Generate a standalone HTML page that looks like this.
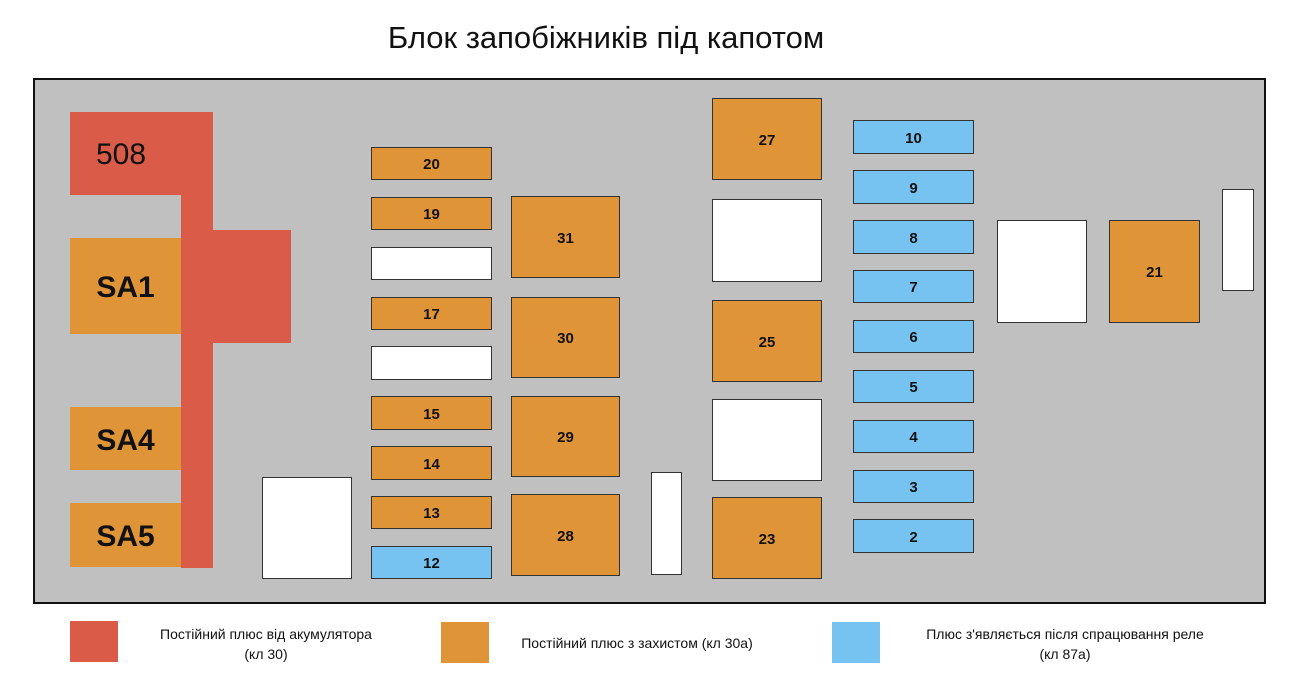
<!DOCTYPE html>
<html><head><meta charset="utf-8"><style>
body{margin:0;width:1296px;height:676px;background:#fff;position:relative;overflow:hidden;font-family:"Liberation Sans",sans-serif}
div{position:absolute;box-sizing:border-box}
.p{left:33px;top:78px;width:1233px;height:526px;border:2px solid #111;background:#c0c0c0}
.r{background:#d95b48}
.o,.b,.w{border:1.5px solid #333;display:flex;align-items:center;justify-content:center;font-weight:bold;font-size:15px;color:#111;padding-top:2px}
.o{background:#e09438}.b{background:#76c2f1}.w{background:#fff}
.sa{background:#e09438;display:flex;align-items:center;justify-content:center;font-weight:bold;font-size:30px;color:#111;padding-top:4px}
.t{font-size:14px;text-align:center;color:#111;line-height:20px}
</style></head><body>
<div style="left:200px;top:20px;width:812px;text-align:center;font-size:31px;color:#111">Блок запобіжників під капотом</div>
<div class="p"></div>
<div class="r" style="left:70px;top:112px;width:143px;height:83px"></div>
<div style="left:96px;top:138px;font-size:30px;color:#111">508</div>
<div class="r" style="left:181px;top:190px;width:32px;height:378px"></div>
<div class="r" style="left:181px;top:230px;width:110px;height:113px"></div>
<div class="sa" style="left:70px;top:238px;width:111px;height:96px">SA1</div>
<div class="sa" style="left:70px;top:407px;width:111px;height:63px">SA4</div>
<div class="sa" style="left:70px;top:503px;width:111px;height:64px">SA5</div>

<div class="o" style="left:371px;top:147px;width:121px;height:33px">20</div>
<div class="o" style="left:371px;top:197px;width:121px;height:33px">19</div>
<div class="w" style="left:371px;top:247px;width:121px;height:33px"></div>
<div class="o" style="left:371px;top:297px;width:121px;height:33px">17</div>
<div class="w" style="left:371px;top:346px;width:121px;height:34px"></div>
<div class="o" style="left:371px;top:396px;width:121px;height:34px">15</div>
<div class="o" style="left:371px;top:446px;width:121px;height:34px">14</div>
<div class="o" style="left:371px;top:496px;width:121px;height:33px">13</div>
<div class="b" style="left:371px;top:546px;width:121px;height:33px">12</div>

<div class="o" style="left:511px;top:196px;width:109px;height:82px">31</div>
<div class="o" style="left:511px;top:297px;width:109px;height:81px">30</div>
<div class="o" style="left:511px;top:396px;width:109px;height:81px">29</div>
<div class="o" style="left:511px;top:494px;width:109px;height:82px">28</div>

<div class="w" style="left:262px;top:477px;width:90px;height:102px"></div>
<div class="w" style="left:651px;top:472px;width:31px;height:103px"></div>

<div class="o" style="left:712px;top:98px;width:110px;height:82px">27</div>
<div class="w" style="left:712px;top:199px;width:110px;height:83px"></div>
<div class="o" style="left:712px;top:300px;width:110px;height:82px">25</div>
<div class="w" style="left:712px;top:399px;width:110px;height:82px"></div>
<div class="o" style="left:712px;top:497px;width:110px;height:82px">23</div>

<div class="b" style="left:853px;top:120px;width:121px;height:34px">10</div>
<div class="b" style="left:853px;top:170px;width:121px;height:34px">9</div>
<div class="b" style="left:853px;top:220px;width:121px;height:34px">8</div>
<div class="b" style="left:853px;top:270px;width:121px;height:33px">7</div>
<div class="b" style="left:853px;top:320px;width:121px;height:33px">6</div>
<div class="b" style="left:853px;top:370px;width:121px;height:33px">5</div>
<div class="b" style="left:853px;top:420px;width:121px;height:33px">4</div>
<div class="b" style="left:853px;top:470px;width:121px;height:33px">3</div>
<div class="b" style="left:853px;top:519px;width:121px;height:34px">2</div>

<div class="w" style="left:997px;top:220px;width:90px;height:103px"></div>
<div class="o" style="left:1109px;top:220px;width:91px;height:103px">21</div>
<div class="w" style="left:1222px;top:189px;width:32px;height:102px"></div>

<div class="r" style="left:70px;top:621px;width:48px;height:41px"></div>
<div class="t" style="left:130px;top:624px;width:272px">Постійний плюс від акумулятора<br>(кл 30)</div>
<div style="left:441px;top:622px;width:48px;height:41px;background:#e09438"></div>
<div class="t" style="left:495px;top:633px;width:284px">Постійний плюс з захистом (кл 30а)</div>
<div style="left:832px;top:622px;width:48px;height:41px;background:#76c2f1"></div>
<div class="t" style="left:900px;top:624px;width:330px">Плюс з'являється після спрацювання реле<br>(кл 87а)</div>
</body></html>
